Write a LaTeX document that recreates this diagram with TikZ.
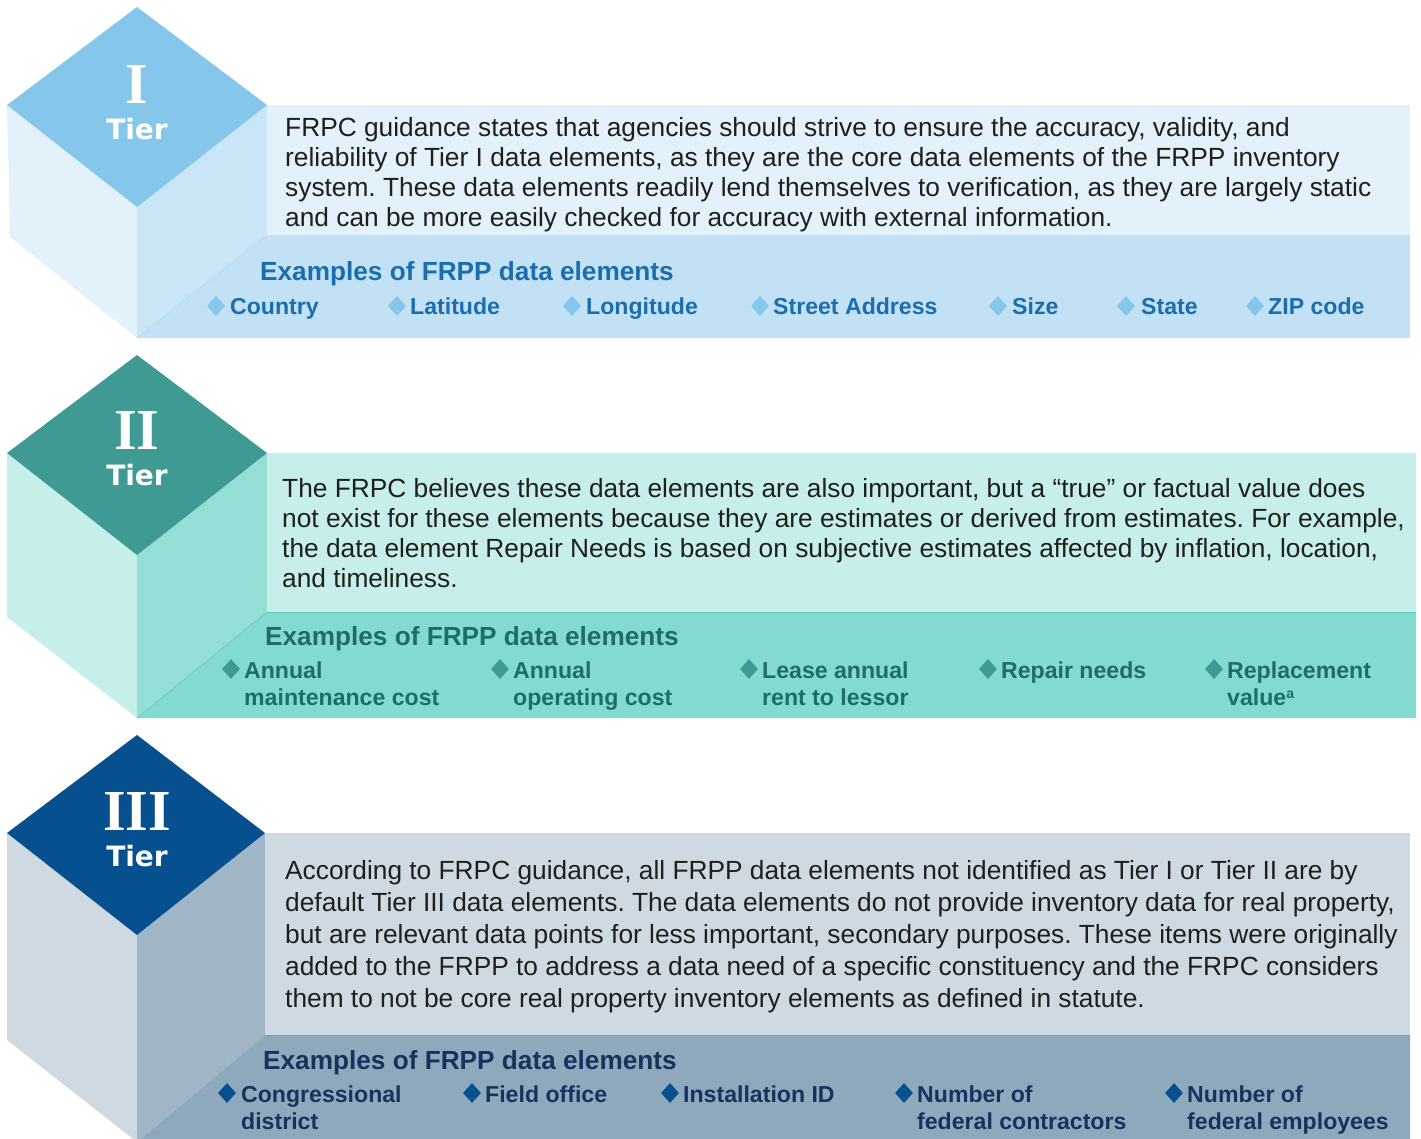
\documentclass[tikz,border=0pt]{standalone}
\usepackage{fontspec}
\setmainfont{Liberation Sans}
\newfontfamily\numfont{Liberation Serif}
\newfontfamily\tierfont{DejaVu Sans}
\usetikzlibrary{shapes.geometric}
\frenchspacing

% tier I (light blue)
\definecolor{oneTop}{HTML}{85C6EB}
\definecolor{oneLeft}{HTML}{E3F1FB}
\definecolor{oneRight}{HTML}{CAE5F6}
\definecolor{oneBand}{HTML}{C2E1F4}
\definecolor{oneEdge}{HTML}{A9D5F0}
\definecolor{oneText}{HTML}{1B6EAD}
% tier II (teal)
\definecolor{twoTop}{HTML}{3E9A93}
\definecolor{twoLeft}{HTML}{C6EEEA}
\definecolor{twoRight}{HTML}{93DFD6}
\definecolor{twoBand}{HTML}{82DAD0}
\definecolor{twoEdge}{HTML}{4FC1B5}
\definecolor{twoText}{HTML}{1D6E67}
% tier III (navy)
\definecolor{threeTop}{HTML}{07508F}
\definecolor{threeLeft}{HTML}{CED9E2}
\definecolor{threeRight}{HTML}{A0B6C6}
\definecolor{threeBand}{HTML}{8FA9BC}
\definecolor{threeEdge}{HTML}{7F9BB0}
\definecolor{threeText}{HTML}{17325E}

\tikzstyle{numeral}=[text=white,inner sep=0,font=\numfont\fontsize{58}{58}\selectfont\bfseries]
\tikzstyle{tierword}=[text=white,inner sep=0,font=\tierfont\fontsize{28}{28}\selectfont\bfseries]
\tikzstyle{body}=[anchor=north west,align=left,inner sep=0,text=black!88,font=\fontsize{26.3}{30}\selectfont]
\tikzstyle{heading}=[anchor=west,inner sep=0,font=\fontsize{26.2}{26}\selectfont\bfseries]
\tikzstyle{item}=[anchor=north west,align=left,inner sep=0,font=\fontsize{23.1}{27}\selectfont\bfseries]
\tikzstyle{bullet}=[diamond,inner sep=0,minimum width=18pt,minimum height=20pt]

\begin{document}
\begin{tikzpicture}[x=1pt,y=-1pt]

\useasboundingbox (0,0) rectangle (1421,1138);

%%% Tier I
\fill [oneLeft]  (7,105) -- (137,207) -- (137,338) -- (10,237) -- cycle;
\fill [oneRight] (137,207) -- (267,105) -- (267,235) -- (137,338) -- cycle;
\fill [oneLeft]  (267,105) rectangle (1410,235);
\fill [oneBand]  (267,235) -- (1410,235) -- (1410,338) -- (137,338) -- cycle;
\draw [oneEdge]  (267,235) -- (137,338);
\fill [oneTop]   (137,7) -- (267,105) -- (137,207) -- (7,105) -- cycle;

\node (n1) [numeral]  at (137,85)  {I};
\node (w1) [tierword] at (137,129) {Tier};

\node (p1) [body] at (285,115) {\strut FRPC guidance states that agencies should strive to ensure the accuracy, validity, and\\
reliability of Tier I data elements, as they are the core data elements of the FRPP inventory\\
system. These data elements readily lend themselves to verification, as they are largely static\\
and can be more easily checked for accuracy with external information.};

\node (h1) [heading, text=oneText] at (260,274) {Examples of FRPP data elements};

\tikzstyle{bullet1}=[bullet, fill=oneTop]
\tikzstyle{item1}=[item, text=oneText]
\node (a1) [item1] at (230,295)  {\strut Country};
\node (a2) [item1] at (410,295)  {\strut Latitude};
\node (a3) [item1] at (586,295)  {\strut Longitude};
\node (a4) [item1] at (773,295)  {\strut Street Address};
\node (a5) [item1] at (1012,295) {\strut Size};
\node (a6) [item1] at (1141,295) {\strut State};
\node (a7) [item1] at (1268,295) {\strut ZIP code};
\node (ba1) [bullet1] at (216,306)  {};
\node (ba2) [bullet1] at (397,306)  {};
\node (ba3) [bullet1] at (572,306)  {};
\node (ba4) [bullet1] at (760,306)  {};
\node (ba5) [bullet1] at (998,306)  {};
\node (ba6) [bullet1] at (1126,306) {};
\node (ba7) [bullet1] at (1255,306) {};

%%% Tier II
\fill [twoLeft]  (7,453) -- (137,555) -- (137,718) -- (7,617) -- cycle;
\fill [twoRight] (137,555) -- (267,453) -- (267,612) -- (137,718) -- cycle;
\fill [twoLeft]  (267,453) rectangle (1416,612);
\fill [twoBand]  (267,612) -- (1416,612) -- (1416,718) -- (137,718) -- cycle;
\draw [twoEdge]  (267,612) -- (137,718);
\draw [twoEdge!60!twoBand] (267,612) -- (1416,612);
\fill [twoTop]   (137,355) -- (267,453) -- (137,555) -- (7,453) -- cycle;

\node (n2) [numeral]  at (137,431) {II};
\node (w2) [tierword] at (137,475) {Tier};

\node (p2) [body] at (282,476) {\strut The FRPC believes these data elements are also important, but a “true” or factual value does\\
not exist for these elements because they are estimates or derived from estimates. For example,\\
the data element Repair Needs is based on subjective estimates affected by inflation, location,\\
and timeliness.};

\node (h2) [heading, text=twoText] at (265,639) {Examples of FRPP data elements};

\tikzstyle{bullet2}=[bullet, fill=twoTop]
\tikzstyle{item2}=[item, text=twoText]
\node (b1) [item2] at (244,659)  {\strut Annual\\maintenance cost};
\node (b2) [item2] at (513,659)  {\strut Annual\\operating cost};
\node (b3) [item2] at (762,659)  {\strut Lease annual\\rent to lessor};
\node (b4) [item2] at (1001,659) {\strut Repair needs};
\node (b5) [item2] at (1227,659) {\strut Replacement\\value{\fontsize{14}{14}\selectfont\raisebox{7pt}{a}}};
\node (bb1) [bullet2] at (231,669)  {};
\node (bb2) [bullet2] at (500,669)  {};
\node (bb3) [bullet2] at (749,669)  {};
\node (bb4) [bullet2] at (988,669)  {};
\node (bb5) [bullet2] at (1214,669) {};

%%% Tier III
\fill [threeLeft]  (7,833) -- (137,935) -- (137,1142) -- (7,1040) -- cycle;
\fill [threeRight] (137,935) -- (265,833) -- (265,1035) -- (137,1142) -- cycle;
\fill [threeLeft]  (265,833) rectangle (1410,1035);
\fill [threeBand]  (265,1035) -- (1410,1035) -- (1410,1142) -- (137,1142) -- cycle;
\draw [threeEdge]  (265,1035) -- (1410,1035);
\fill [threeTop]   (137,735) -- (265,833) -- (137,935) -- (7,833) -- cycle;

\node (n3) [numeral]  at (137,811) {III};
\node (w3) [tierword] at (137,856) {Tier};

\node (p3) [body, font=\fontsize{26.3}{32}\selectfont] at (285,857) {\strut According to FRPC guidance, all FRPP data elements not identified as Tier I or Tier II are by\\
default Tier III data elements. The data elements do not provide inventory data for real property,\\
but are relevant data points for less important, secondary purposes. These items were originally\\
added to the FRPP to address a data need of a specific constituency and the FRPC considers\\
them to not be core real property inventory elements as defined in statute.};

\node (h3) [heading, text=threeText] at (263,1063) {Examples of FRPP data elements};

\tikzstyle{bullet3}=[bullet, fill=threeTop]
\tikzstyle{item3}=[item, text=threeText]
\node (c1) [item3] at (241,1083) {\strut Congressional\\district};
\node (c2) [item3] at (485,1083) {\strut Field office};
\node (c3) [item3] at (683,1083) {\strut Installation ID};
\node (c4) [item3] at (917,1083) {\strut Number of\\federal contractors};
\node (c5) [item3] at (1187,1083) {\strut Number of\\federal employees};
\node (bc1) [bullet3] at (227,1093)  {};
\node (bc2) [bullet3] at (472,1093)  {};
\node (bc3) [bullet3] at (670,1093)  {};
\node (bc4) [bullet3] at (904,1093)  {};
\node (bc5) [bullet3] at (1174,1093) {};

\end{tikzpicture}
\end{document}
